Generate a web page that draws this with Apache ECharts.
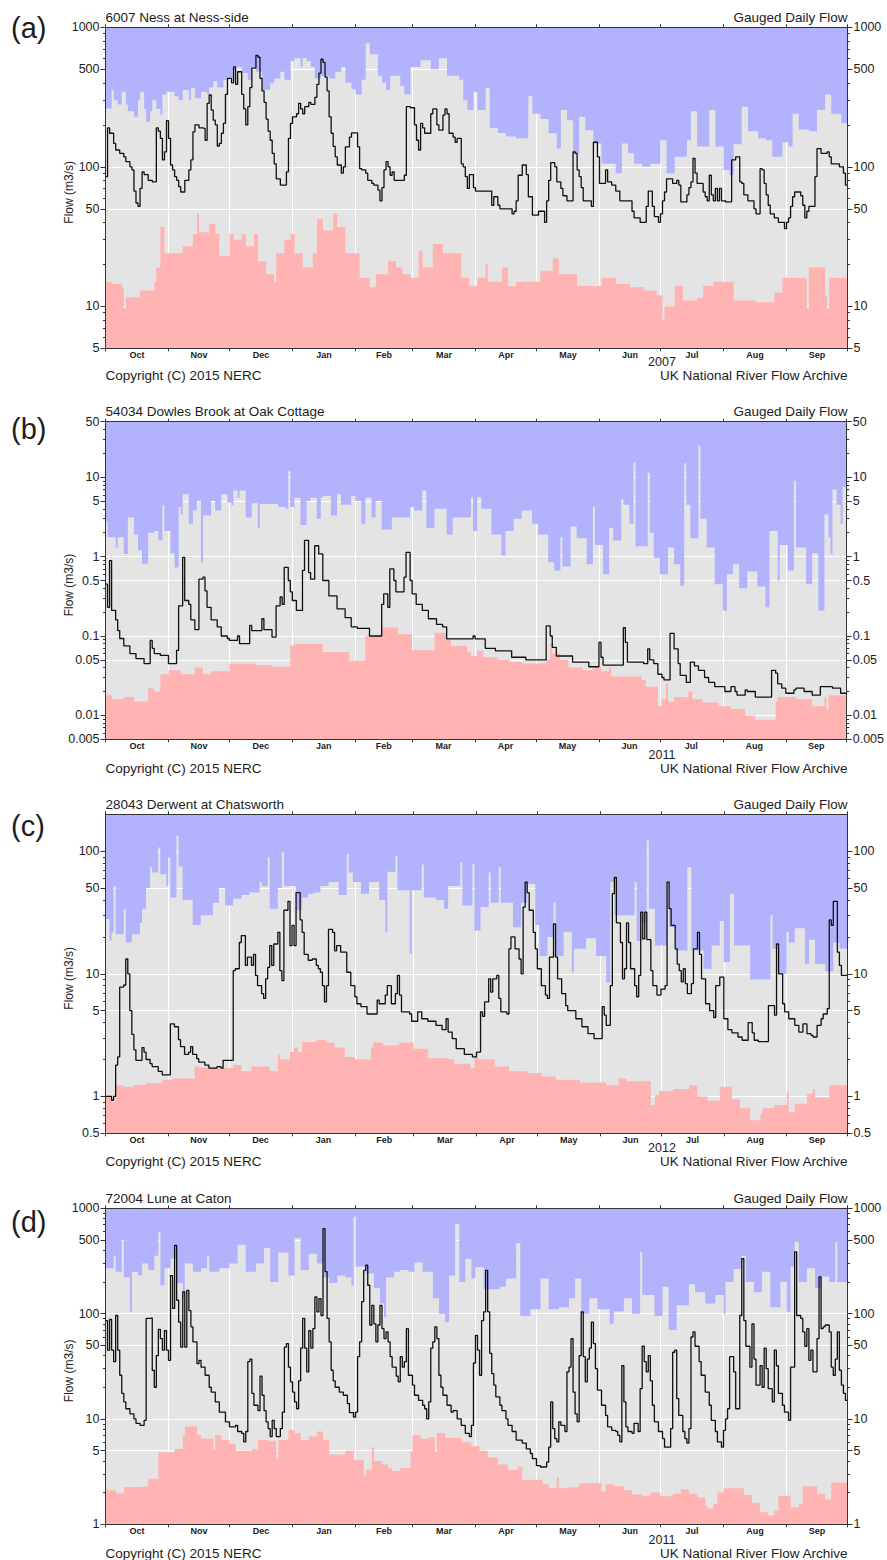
<!DOCTYPE html>
<html><head><meta charset="utf-8">
<script src="https://cdn.jsdelivr.net/npm/echarts@6.0.0/dist/echarts.min.js"></script>
<style>html,body{margin:0;padding:0;background:#fff}#c{width:887px;height:1560px}</style>
</head><body><div id="c"></div>
<script>
// ---------------- DATA (day of water year, flow m3/s) ----------------
const MONTHS = ['Oct','Nov','Dec','Jan','Feb','Mar','Apr','May','Jun','Jul','Aug','Sep'];
const monthStarts365 = [0,31,61,92,123,151,182,212,243,273,304,335,365];
const monthStarts366 = [0,31,61,92,123,152,183,213,244,274,305,336,366];

const aMajor = [5,10,50,100,500,1000];
const aMinor = [6,7,8,9,20,30,40,60,70,80,90,200,300,400,600,700,800,900];
const bMajor = [0.005,0.01,0.05,0.1,0.5,1,5,10,50];
const bMinor = [0.006,0.007,0.008,0.009,0.02,0.03,0.04,0.06,0.07,0.08,0.09,0.2,0.3,0.4,0.6,0.7,0.8,0.9,2,3,4,6,7,8,9,20,30,40];
const cMajor = [0.5,1,5,10,50,100];
const cMinor = [0.6,0.7,0.8,0.9,2,3,4,6,7,8,9,20,30,40,60,70,80,90];
const dMajor = [1,5,10,50,100,500,1000];
const dMinor = [2,3,4,6,7,8,9,20,30,40,60,70,80,90,200,300,400,600,700,800,900];

// (a) 6007 Ness at Ness-side, 2006/07
const aFlow = [[0,85],[1,190],[2,174],[4,147],[5,132],[7,125],[9,118],[10,109],[12,100],[13,95],[14,67],[15,55],[16,52],[17,70],[18,92],[19,88],[21,80],[23,78],[25,190],[26,180],[27,160],[28,112],[29,128],[30,214],[31,160],[32,103],[33,95],[34,85],[35,80],[36,72],[37,66],[39,80],[41,95],[42,112],[43,178],[44,200],[46,190],[48,188],[49,155],[50,285],[51,327],[52,255],[53,216],[54,200],[55,141],[56,147],[57,174],[58,205],[59,330],[60,430],[62,400],[63,520],[64,390],[65,480],[67,330],[68,260],[69,200],[70,270],[71,370],[72,510],[74,630],[75,610],[76,430],[77,350],[78,290],[79,220],[80,180],[81,155],[82,125],[83,105],[84,82],[86,74],[89,92],[90,160],[91,205],[92,228],[94,240],[95,285],[96,260],[97,240],[98,270],[100,290],[101,280],[103,315],[104,390],[105,470],[106,590],[107,560],[108,440],[109,350],[110,228],[111,174],[112,140],[113,118],[114,103],[116,90],[117,100],[118,139],[120,163],[121,175],[124,139],[125,97],[126,95],[128,90],[129,80],[131,76],[132,74],[134,68],[135,57],[136,71],[137,95],[138,109],[139,100],[140,87],[141,92],[142,80],[147,87],[148,270],[150,265],[152,200],[153,155],[154,132],[155,205],[156,190],[157,174],[160,240],[161,260],[163,200],[164,183],[166,235],[167,260],[168,240],[169,174],[171,163],[172,150],[173,160],[175,105],[176,100],[177,85],[178,70],[179,88],[181,71],[182,67],[190,53],[191,61],[193,53],[194,50],[200,46],[201,48],[202,57],[203,87],[205,103],[207,88],[208,61],[210,45],[213,48],[216,40],[217,57],[218,80],[219,107],[221,100],[222,78],[224,70],[225,62],[227,57],[230,128],[231,125],[232,95],[233,85],[234,71],[235,57],[239,52],[240,150],[242,118],[243,76],[246,95],[247,78],[249,74],[251,67],[253,57],[259,48],[260,43],[263,40],[266,52],[267,67],[269,52],[270,44],[272,40],[273,46],[274,57],[275,66],[276,82],[279,76],[281,80],[282,74],[283,56],[286,63],[287,71],[288,78],[289,115],[290,90],[291,76],[294,66],[295,61],[296,57],[297,87],[298,63],[299,57],[300,70],[301,57],[302,70],[303,57],[305,56],[308,112],[310,118],[312,78],[313,76],[314,63],[316,57],[319,50],[320,46],[322,97],[323,95],[324,76],[325,63],[326,53],[327,46],[329,43],[331,40],[334,36],[335,40],[336,43],[337,52],[338,61],[339,66],[342,62],[343,53],[344,43],[345,48],[346,52],[349,85],[350,135],[352,125],[355,128],[356,118],[357,105],[361,100],[363,90],[364,74],[365,74]];
const aMax = [[0,262],[3,355],[4,300],[6,280],[8,345],[10,280],[11,250],[14,228],[16,300],[17,345],[19,260],[20,210],[22,250],[23,300],[25,260],[27,235],[28,330],[30,345],[34,320],[36,300],[38,355],[41,300],[42,365],[44,310],[47,345],[50,330],[51,370],[53,410],[55,370],[58,420],[61,430],[63,480],[64,520],[67,470],[70,420],[72,520],[74,480],[77,355],[81,397],[83,430],[86,480],[88,420],[91,570],[93,600],[96,520],[97,600],[99,570],[101,520],[103,430],[106,450],[110,430],[113,480],[116,520],[118,400],[121,360],[123,330],[126,420],[128,770],[130,640],[134,450],[136,400],[138,355],[140,450],[145,380],[147,330],[150,520],[155,580],[160,500],[164,600],[168,450],[172,450],[174,420],[176,300],[178,255],[181,345],[183,255],[187,365],[189,190],[193,175],[197,165],[202,160],[208,320],[210,240],[214,220],[218,174],[222,135],[224,255],[227,216],[230,125],[233,228],[236,183],[240,147],[244,105],[248,105],[251,90],[254,147],[257,125],[260,105],[264,100],[268,105],[273,155],[276,90],[280,118],[286,155],[288,250],[291,140],[297,255],[300,140],[304,95],[307,87],[309,145],[313,270],[316,180],[321,160],[325,155],[328,118],[333,150],[336,140],[338,240],[341,185],[346,180],[350,255],[354,330],[357,240],[362,205],[365,205]];
const aMin = [[0,15],[3,14.5],[8,13.7],[9,9.6],[10,11.6],[17,13],[24,15],[25,19],[27,37],[29,24],[38,27],[43,33],[45,46],[46,34],[51,39],[54,33],[56,23],[61,33],[63,30],[67,33],[69,27],[73,33],[75,21],[79,17],[83,15],[84,24],[88,30],[91,33],[93,24],[97,19],[102,24],[104,42],[107,35],[112,46],[114,37],[118,24],[125,16],[130,13.7],[133,17],[139,21],[143,19],[146,17],[150,16],[154,25],[156,19],[161,28],[166,24],[175,16],[179,14],[183,16],[187,20],[188,15],[195,19],[198,14],[202,15],[214,18],[220,22],[223,17],[232,14],[244,16],[251,14.5],[258,13.7],[265,13],[271,12],[274,7.9],[275,10],[280,14],[284,11],[291,11.5],[294,14],[299,15],[309,11],[320,10.7],[329,12.5],[333,16],[345,9.6],[346,19],[354,12],[355,9.6],[356,16],[365,16]];

// (b) 54034 Dowles Brook at Oak Cottage, 2010/11
const bFlow = [[0,0.45],[1,0.23],[2,0.89],[3,0.21],[5,0.16],[6,0.117],[7,0.093],[9,0.075],[12,0.06],[15,0.052],[19,0.045],[22,0.088],[23,0.07],[24,0.06],[27,0.057],[31,0.045],[35,0.066],[36,0.24],[38,0.98],[39,0.28],[41,0.25],[42,0.16],[44,0.12],[46,0.52],[48,0.55],[49,0.37],[50,0.23],[52,0.16],[55,0.13],[57,0.1],[60,0.093],[61,0.088],[65,0.1],[66,0.08],[71,0.136],[72,0.117],[77,0.165],[78,0.12],[82,0.097],[84,0.24],[86,0.31],[87,0.25],[88,0.73],[90,0.5],[91,0.36],[92,0.28],[94,0.21],[97,0.67],[98,1.6],[100,0.63],[101,0.52],[103,1.37],[105,1.08],[107,0.5],[110,0.32],[114,0.22],[118,0.17],[121,0.13],[124,0.125],[130,0.1],[136,0.25],[137,0.34],[139,0.23],[140,0.7],[142,0.5],[143,0.36],[147,0.55],[148,1.13],[150,0.5],[151,0.34],[153,0.25],[156,0.21],[159,0.165],[163,0.14],[166,0.13],[168,0.092],[181,0.1],[182,0.092],[187,0.07],[192,0.065],[200,0.054],[207,0.05],[217,0.134],[219,0.1],[220,0.072],[222,0.056],[230,0.047],[238,0.041],[243,0.083],[244,0.054],[245,0.043],[255,0.127],[256,0.083],[257,0.047],[265,0.045],[267,0.069],[268,0.05],[270,0.045],[272,0.033],[274,0.03],[275,0.028],[278,0.108],[280,0.069],[282,0.045],[283,0.032],[286,0.026],[288,0.047],[290,0.042],[292,0.037],[295,0.03],[297,0.026],[300,0.023],[305,0.02],[308,0.023],[310,0.02],[311,0.018],[315,0.021],[316,0.02],[320,0.017],[328,0.037],[330,0.034],[331,0.025],[333,0.022],[335,0.019],[339,0.021],[340,0.022],[344,0.02],[348,0.018],[352,0.023],[358,0.022],[362,0.019],[365,0.019]];
const bMax = [[0,2.8],[1,1.75],[5,1.3],[6,1.75],[9,1.08],[11,3.1],[14,1.9],[16,1.2],[18,0.81],[21,2.0],[24,2.1],[26,1.6],[28,4.4],[29,2.1],[32,1.1],[34,0.73],[36,4.2],[37,3.4],[38,6.1],[41,2.6],[43,3.8],[45,5],[47,0.85],[48,3.3],[52,5],[54,3.8],[57,6.1],[60,4.8],[62,4.4],[63,6.8],[65,5.5],[66,6.8],[69,3.1],[72,4.7],[75,2.3],[76,4.6],[85,4.2],[89,4.0],[90,12],[91,4.2],[93,5.5],[96,2.5],[99,5],[101,5.5],[104,3],[106,5.6],[107,5.8],[111,3.3],[114,6.1],[116,4.5],[121,5.8],[123,5],[126,2.6],[128,5.5],[131,3.1],[133,5],[136,2.2],[141,3.1],[150,4.2],[152,3.8],[156,6.8],[158,2.3],[162,4],[168,1.9],[171,3.1],[180,5.6],[181,2.1],[183,5.6],[185,4.0],[190,1.9],[195,1.03],[197,2.1],[201,3],[205,3.8],[210,2.6],[213,1.9],[218,0.85],[221,0.67],[224,1.75],[225,0.75],[229,2.4],[232,1.7],[237,0.8],[240,4.2],[241,1.4],[245,0.6],[248,2.3],[250,1.6],[254,5.3],[255,4.5],[258,2.6],[260,15.3],[261,1.35],[267,11.5],[268,2.0],[270,0.97],[273,0.6],[277,1.3],[280,0.8],[283,0.43],[285,15],[286,4.5],[288,1.7],[292,25],[293,3],[296,1.3],[300,0.45],[304,0.21],[306,0.6],[309,0.8],[312,0.4],[316,0.65],[321,0.42],[325,0.23],[327,2.1],[331,0.5],[332,1.4],[336,0.67],[339,9],[340,1.3],[345,0.45],[348,1.1],[351,0.21],[354,3.4],[356,1.75],[357,1.08],[358,7],[360,4.5],[362,2.6],[363,7.5],[365,5]];
const bMin = [[0,0.018],[3,0.016],[9,0.017],[14,0.015],[21,0.022],[24,0.02],[27,0.033],[31,0.037],[37,0.033],[44,0.04],[48,0.033],[52,0.036],[61,0.045],[74,0.043],[82,0.041],[91,0.076],[93,0.08],[107,0.063],[120,0.049],[128,0.1],[136,0.128],[144,0.105],[151,0.066],[162,0.11],[168,0.09],[170,0.075],[178,0.063],[180,0.056],[183,0.065],[186,0.054],[193,0.05],[199,0.047],[205,0.045],[217,0.05],[219,0.08],[220,0.06],[224,0.05],[228,0.04],[235,0.037],[240,0.04],[244,0.036],[248,0.04],[249,0.031],[264,0.028],[266,0.023],[272,0.013],[274,0.016],[276,0.025],[277,0.015],[280,0.017],[287,0.02],[289,0.016],[294,0.0145],[302,0.013],[308,0.012],[315,0.01],[320,0.0088],[330,0.015],[331,0.017],[340,0.016],[348,0.013],[354,0.017],[355,0.012],[356,0.018],[365,0.019]];

// (c) 28043 Derwent at Chatsworth, 2011/12
const cFlow = [[0,1.0],[3,0.93],[4,1.0],[5,1.8],[6,2.1],[7,7.8],[9,8.1],[10,13.2],[11,10],[12,5],[13,3.2],[14,2.4],[15,1.97],[18,2.5],[19,2.3],[20,2.0],[22,1.85],[23,1.75],[26,1.6],[28,1.5],[32,3.9],[34,3.7],[36,2.9],[37,2.55],[39,2.2],[41,2.3],[42,2.55],[43,2.2],[45,2.03],[46,1.9],[49,1.8],[51,1.7],[55,1.75],[57,1.7],[58,1.97],[63,10.6],[64,11],[66,18],[67,20.5],[69,11.7],[70,13.7],[72,11.7],[73,14.4],[74,9.7],[75,8],[77,6.9],[78,6.3],[79,9.1],[80,11.3],[81,17],[82,11.7],[83,17.5],[85,21.8],[86,10.6],[87,8.8],[88,33],[90,39],[91,17],[92,24.8],[93,17],[94,46],[96,27.5],[97,21.8],[98,14.4],[100,12.9],[102,13.2],[104,11.7],[105,11],[106,10.3],[107,8],[108,5.9],[109,8],[110,23],[112,21.8],[113,15.4],[114,17],[116,15],[119,10.3],[121,8],[123,6.5],[124,5.7],[126,5.4],[129,4.7],[134,6.1],[135,5.7],[138,6.7],[139,8],[141,5.7],[143,6.9],[144,9.7],[145,6.7],[146,4.9],[150,4.7],[151,4.1],[154,4.9],[156,4.3],[159,4.1],[163,3.8],[166,3.5],[168,4.3],[169,3.35],[171,2.96],[173,2.45],[177,2.2],[181,2.1],[183,2.3],[185,4.9],[186,4.5],[187,5.9],[189,9.1],[190,7.1],[191,9.1],[193,9.7],[194,6.3],[195,4.9],[198,4.7],[199,16],[200,20],[202,16],[204,13.2],[205,10],[206,35],[207,56],[208,46],[209,33],[211,21.8],[212,16],[213,11],[215,8],[217,6.7],[218,6.3],[219,13.7],[221,25.5],[222,13.7],[223,9.1],[225,6.9],[227,5.5],[228,5],[232,4.3],[235,3.7],[238,3.25],[241,2.96],[245,5.4],[246,4.6],[247,3.8],[249,8],[250,45],[251,61],[252,26],[254,18],[255,9.1],[256,11],[257,26],[258,18],[259,11],[261,8],[262,6.5],[263,9.7],[264,31.8],[265,19.3],[266,31.8],[267,19],[269,10.6],[270,8],[272,6.7],[274,7.5],[276,8],[277,56],[278,34],[279,24.8],[281,16],[282,12],[283,10.6],[284,8.6],[285,11],[286,8.3],[287,6.9],[289,8.3],[290,16],[292,21.8],[293,14.4],[294,9.1],[296,5.7],[298,5],[300,4.4],[301,8],[303,9.4],[305,4.3],[307,3.5],[309,3.3],[312,3.05],[314,2.87],[317,4.0],[319,3.3],[320,2.87],[322,2.8],[327,5.5],[330,4.6],[331,17.5],[332,10],[334,5.7],[335,4.9],[337,4.3],[340,3.8],[342,3.35],[344,3.9],[346,3.25],[348,3.15],[349,3.05],[351,3.8],[353,4.3],[354,4.7],[356,5.2],[357,27.5],[358,24.8],[359,39],[361,15],[362,11.7],[363,9.7],[366,9.7]];
const cMax = [[0,28],[2,18.7],[3,21.8],[4,52],[5,21],[9,34],[10,18],[13,21],[17,26],[18,34],[20,50],[22,74],[23,67],[26,107],[27,65],[30,52],[31,89],[32,42],[35,134],[36,75],[38,40],[43,25],[47,30],[53,38],[56,50],[59,36],[63,41],[67,44],[71,46],[76,56],[77,52],[80,89],[81,34],[85,50],[87,98],[88,52],[94,33],[97,42],[100,45],[103,46],[106,52],[110,56],[115,44],[119,95],[120,67],[122,56],[126,45],[130,56],[135,40],[138,21.8],[139,68],[143,92],[144,48],[150,14.5],[151,48],[156,78],[157,42],[163,40],[167,34],[169,52],[175,81],[176,36],[181,79],[182,22.5],[185,35],[189,67],[190,38],[194,74],[195,38],[201,24],[205,38],[208,54],[212,25],[214,14],[218,20],[221,38],[222,14],[226,22],[230,10.3],[231,16],[237,19.5],[242,14],[247,8.5],[249,56],[251,30],[261,56],[262,18.5],[265,26],[267,122],[268,34],[271,17],[277,56],[278,24],[281,15.5],[287,74],[289,15.5],[295,11],[299,17],[303,27],[305,12.5],[308,45],[310,17],[318,9],[328,30],[329,16],[332,10],[336,22],[337,18],[340,23.5],[345,12],[347,19],[350,12],[355,10.5],[359,18],[362,16],[366,16]];
const cMin = [[0,1.0],[3,0.9],[5,1.23],[9,1.2],[14,1.24],[20,1.28],[28,1.37],[33,1.4],[44,1.75],[46,1.72],[58,1.7],[63,1.8],[67,1.6],[72,1.75],[81,1.6],[85,2.2],[86,2.0],[91,2.3],[93,2.5],[95,2.3],[97,2.78],[104,2.9],[109,2.75],[113,2.5],[118,2.1],[123,2.0],[131,2.5],[132,2.75],[137,2.6],[145,2.75],[152,2.45],[159,2.05],[169,2.0],[172,1.85],[180,1.7],[182,2.1],[184,2.0],[192,1.75],[199,1.6],[208,1.55],[215,1.45],[222,1.37],[234,1.3],[247,1.23],[253,1.4],[257,1.33],[269,0.85],[271,1.02],[273,1.1],[280,1.15],[288,1.23],[292,1.0],[297,0.92],[303,1.2],[309,0.95],[313,0.8],[318,0.64],[323,0.72],[324,0.8],[330,0.85],[336,1.1],[337,0.75],[340,0.87],[346,1.05],[349,1.15],[350,0.98],[357,1.23],[366,1.23]];

// (d) 72004 Lune at Caton, 2010/11
const dFlow = [[0,86],[1,45],[2,88],[3,45],[4,35],[5,96],[6,45],[7,26],[8,17.5],[9,14.5],[10,12.5],[12,11.2],[14,10],[15,9.1],[17,8.7],[19,9.7],[20,90],[22,91],[23,29],[24,20],[25,40],[26,71],[27,58],[28,45],[29,69],[30,45],[31,36],[32,230],[33,112],[34,445],[35,134],[36,83],[37,48],[38,161],[39,48],[40,166],[41,107],[42,75],[43,54],[45,33.5],[46,36],[47,31],[49,26],[51,20],[52,18],[54,14.5],[56,11.6],[59,9.4],[61,8.4],[64,8.7],[65,7.6],[67,7.3],[68,6.05],[69,7.6],[70,35],[71,37],[72,17.5],[73,13.5],[75,12],[76,25.5],[77,16.8],[78,12],[79,9.4],[80,8.1],[81,6.8],[82,9.7],[83,8.1],[84,6.8],[86,8.1],[87,11.6],[88,48],[89,52],[90,31],[91,22.5],[92,18],[93,14.5],[94,12.5],[95,23],[96,47],[97,90],[98,47],[99,28],[100,69],[101,47],[102,72],[103,144],[104,104],[105,139],[106,96],[107,640],[108,250],[109,90],[110,54],[111,29],[112,23],[113,20],[115,18],[117,16.8],[119,14],[120,11.5],[122,10.4],[123,11.6],[124,39],[125,54],[126,130],[127,257],[128,288],[129,186],[130,78],[131,120],[132,80],[133,54],[134,78],[135,120],[136,72],[137,58],[138,67],[139,54],[140,39],[141,31],[143,25.5],[144,22.5],[145,39],[146,31],[147,35],[148,72],[149,26],[151,21],[152,16.8],[154,15],[156,13.5],[157,12.5],[158,10],[159,14.5],[160,47],[161,54],[162,75],[163,58],[164,26],[165,20],[166,16.8],[168,13.5],[170,11.6],[171,12],[173,10],[175,8.7],[177,7.3],[179,6.8],[180,8.7],[181,34],[182,62],[183,45],[184,26],[185,86],[186,104],[187,257],[188,104],[189,42],[190,27],[191,21],[192,16.2],[194,13.5],[195,12],[197,10],[198,8.7],[200,7.6],[202,6.3],[205,5.9],[207,5.2],[209,4.7],[210,4.2],[212,3.6],[214,3.5],[217,3.9],[218,5.4],[219,14.5],[220,8.1],[221,6.5],[222,6.05],[223,9.4],[224,8.7],[226,7.6],[227,28],[228,31],[229,58],[230,18],[231,11.2],[232,9.4],[233,40],[234,104],[235,39],[236,22.5],[237,37],[238,47],[239,83],[240,52],[241,30],[242,18.8],[244,13.5],[246,10.8],[247,8.4],[249,7.8],[251,7.6],[252,7],[253,6.05],[254,32],[255,14.5],[256,8.4],[257,7.6],[259,7.3],[260,9.1],[262,7.6],[263,19.4],[264,49],[265,35],[266,28],[267,40],[268,23],[269,13.5],[270,9.4],[272,7.6],[274,6.5],[275,5.4],[278,8.1],[279,43],[280,45],[281,15.6],[282,10.8],[284,7.6],[285,6.5],[286,5.9],[287,8.1],[288,60],[289,67],[290,49],[292,35],[293,26],[295,18],[297,13.5],[298,9.7],[300,7.6],[301,6.05],[303,5.4],[304,7.8],[305,10],[306,12.5],[307,39],[309,28],[310,12.5],[312,96],[313,333],[314,86],[315,49],[317,31],[318,80],[319,37],[320,21],[322,32],[323,20],[324,47],[325,30],[326,19.4],[328,14.5],[329,45],[330,32],[331,17.5],[333,13.5],[334,11.6],[336,9.7],[337,31],[339,385],[340,96],[342,90],[343,67],[344,49],[345,72],[346,36],[347,45],[348,28],[350,58],[351,223],[352,72],[353,75],[354,78],[356,67],[357,31],[358,26],[359,37],[360,67],[361,29],[362,21],[363,17.5],[364,15],[365,15]];
const dMax = [[0,270],[4,355],[5,250],[8,500],[9,222],[12,104],[13,250],[16,230],[18,300],[21,260],[24,355],[26,595],[27,186],[29,270],[32,333],[35,195],[38,139],[39,300],[43,250],[47,270],[50,355],[51,250],[56,270],[61,300],[65,450],[69,250],[74,300],[78,420],[81,200],[85,380],[90,230],[93,520],[96,260],[100,370],[104,300],[107,220],[110,195],[114,230],[118,220],[121,186],[122,830],[123,280],[128,240],[132,175],[135,125],[137,93],[138,220],[142,250],[145,260],[149,250],[152,305],[156,250],[161,140],[164,100],[167,83],[169,230],[172,710],[174,200],[177,330],[180,215],[182,275],[186,170],[194,180],[197,215],[202,465],[204,95],[209,110],[214,215],[218,110],[223,115],[228,140],[231,215],[234,100],[238,140],[242,110],[248,80],[250,105],[255,140],[259,100],[263,385],[264,150],[270,95],[274,180],[277,70],[281,120],[287,190],[290,160],[295,125],[300,150],[304,100],[305,200],[309,265],[313,355],[315,200],[319,160],[323,250],[327,115],[332,200],[335,104],[337,280],[339,479],[341,200],[345,270],[349,175],[352,225],[356,200],[359,479],[360,200],[365,200]];
const dMin = [[0,2.1],[5,1.97],[9,2.25],[14,2.28],[21,2.7],[26,4.8],[34,5.2],[38,7],[39,8.5],[45,7],[47,6.5],[53,5.2],[54,7],[57,6.3],[61,5.8],[64,5.0],[72,5.2],[75,6.3],[80,6.2],[84,4.2],[85,6.3],[90,7.8],[93,7.3],[96,6.3],[100,6.8],[104,7.6],[107,6.3],[110,4.6],[118,5.0],[122,4.1],[127,2.9],[128,3.3],[131,5.4],[132,4.0],[136,3.7],[139,3.4],[141,3.2],[145,3.45],[150,4.9],[151,7.0],[155,6.5],[159,6.7],[162,4.9],[163,7.3],[167,6.6],[175,6.0],[180,5.5],[184,5.0],[188,4.3],[193,3.7],[198,3.3],[203,3.5],[205,2.65],[215,2.4],[218,2.2],[222,2.8],[223,2.2],[228,2.25],[233,2.45],[244,2.05],[246,2.4],[250,2.3],[255,2.1],[259,1.92],[264,1.87],[268,2.0],[273,1.85],[279,1.95],[283,2.15],[287,1.95],[291,1.8],[295,1.5],[296,1.41],[299,1.55],[301,2.0],[304,2.2],[314,1.9],[318,1.6],[322,1.3],[326,1.22],[329,1.35],[331,1.87],[337,1.45],[341,1.55],[343,2.3],[350,1.95],[354,1.72],[357,2.5],[365,2.45]];

const panelLetters = ['(a)','(b)','(c)','(d)'];
const stationTitles = ['6007 Ness at Ness-side','54034 Dowles Brook at Oak Cottage','28043 Derwent at Chatsworth','72004 Lune at Caton'];
const yearLabels = ['2007','2011','2012','2011'];

// ---------------- LAYOUT / STYLE ----------------
const FONT = '"Liberation Sans", Arial, Helvetica, sans-serif';
const TXT = '#1c1c1c';
const L = 105.5, W = 742;
const panels = [
  {flow:aFlow,max:aMax,min:aMin,major:aMajor,minor:aMinor,lo:5,hi:1000,starts:monthStarts365,T:27.3,H:321,letterY:28,footY:375.5},
  {flow:bFlow,max:bMax,min:bMin,major:bMajor,minor:bMinor,lo:0.005,hi:50,starts:monthStarts365,T:421.7,H:317.6,letterY:429,footY:768},
  {flow:cFlow,max:cMax,min:cMin,major:cMajor,minor:cMinor,lo:0.5,hi:200,starts:monthStarts366,T:814.3,H:319,letterY:826,footY:1161},
  {flow:dFlow,max:dMax,min:dMin,major:dMajor,minor:dMinor,lo:1,hi:1000,starts:monthStarts365,T:1208.3,H:316,letterY:1222,footY:1553.5}
];

function fmtNum(v){ return String(+Number(v).toPrecision(6)); }

const grid=[], xAxis=[], yAxis=[], series=[], graphic=[];
panels.forEach((p,g)=>{
  const days = p.starts[12];
  const mids = p.starts.slice(0,12).map((s,i)=> (s + p.starts[i+1]) / 2);
  const monthOf = v => { for (let i=0;i<12;i++){ if (v>=p.starts[i] && v<p.starts[i+1]) return MONTHS[i]; } return ''; };
  grid.push({left:L, top:p.T, width:W, height:p.H, show:true, backgroundColor:'#e4e4e4', borderWidth:0, containLabel:false});
  const axLine = {show:true, onZero:false, lineStyle:{color:'#333', width:1}};
  xAxis.push({gridIndex:g, type:'value', min:0, max:days, position:'bottom', z:0,
    axisLine:{show:false,onZero:false}, axisTick:{show:false, customValues:p.starts}, axisLabel:{show:false},
    splitLine:{show:true, lineStyle:{color:'#ffffff', width:1}}});
  xAxis.push({gridIndex:g, type:'value', min:0, max:days, position:'bottom', z:10,
    axisLine:axLine, axisTick:{show:true, inside:false, length:3, customValues:p.starts, lineStyle:{color:'#333'}},
    axisLabel:{show:true, customValues:mids, formatter:monthOf, margin:2, fontSize:9, fontWeight:'bold', fontFamily:FONT, color:TXT},
    splitLine:{show:false}});
  xAxis.push({gridIndex:g, type:'value', min:0, max:days, position:'top', z:10,
    axisLine:axLine, axisTick:{show:true, length:3, customValues:p.starts, lineStyle:{color:'#333'}},
    axisLabel:{show:false}, splitLine:{show:false}});
  const yBase = {gridIndex:g, type:'log', logBase:10, min:p.lo, max:p.hi};
  yAxis.push(Object.assign({}, yBase, {position:'left', z:0, axisLine:{show:false,onZero:false},
    axisTick:{show:false, customValues:p.major}, axisLabel:{show:false},
    splitLine:{show:true, lineStyle:{color:'#ffffff', width:1}}}));
  ['left','right'].forEach(pos=>{
    yAxis.push(Object.assign({}, yBase, {position:pos, z:10, axisLine:axLine,
      axisTick:{show:true, length:5, customValues:p.major, lineStyle:{color:'#333'}},
      axisLabel:{show:true, customValues:p.major, formatter:fmtNum, margin:6, fontSize:12.5, fontFamily:FONT, color:TXT},
      splitLine:{show:false}}));
    yAxis.push(Object.assign({}, yBase, {position:pos, z:10, axisLine:{show:false,onZero:false},
      axisTick:{show:true, length:2.5, customValues:p.minor, lineStyle:{color:'#333'}},
      axisLabel:{show:false}, splitLine:{show:false}}));
  });
  const xi = g*3, yi = g*5;
  series.push({type:'line', xAxisIndex:xi, yAxisIndex:yi, data:p.max, step:'end', symbol:'none', z:2,
    lineStyle:{width:0, opacity:0}, areaStyle:{origin:'end', color:'#b3b3fd', opacity:1}, silent:true, animation:false});
  series.push({type:'line', xAxisIndex:xi, yAxisIndex:yi, data:p.min, step:'end', symbol:'none', z:3,
    lineStyle:{width:0, opacity:0}, areaStyle:{origin:'start', color:'#ffb3b3', opacity:1}, silent:true, animation:false});
  series.push({type:'line', xAxisIndex:xi, yAxisIndex:yi, data:p.flow, step:'end', symbol:'none', z:4,
    lineStyle:{width:1.3, color:'#111'}, silent:true, animation:false});

  const txt = (text, x, y, size, align, extra) => Object.assign({type:'text', x:x, y:y, silent:true,
    style:{text:text, font: size+'px '+FONT, fill:TXT, align:align, textAlign:align, verticalAlign:'middle', textVerticalAlign:'middle'}}, extra||{});
  graphic.push(txt(panelLetters[g], 11, p.letterY, 29, 'left'));
  graphic.push(txt(stationTitles[g], L, p.T-10, 13.5, 'left'));
  graphic.push(txt('Gauged Daily Flow', L+W, p.T-10, 13.5, 'right'));
  graphic.push(txt('Flow (m3/s)', 69, p.T + p.H/2 + 4.5, 12, 'center', {rotation: Math.PI/2}));
  graphic.push(txt(yearLabels[g], 662, p.footY - 13.3, 12.5, 'center'));
  graphic.push(txt('Copyright (C) 2015 NERC', L, p.footY, 13.5, 'left'));
  graphic.push(txt('UK National River Flow Archive', L+W, p.footY, 13.5, 'right'));
});

const chart = echarts.init(document.getElementById('c'), null, {renderer:'svg', width:887, height:1560});
chart.setOption({animation:false, backgroundColor:'#ffffff', grid, xAxis, yAxis, series, graphic});
</script>
</body></html>
